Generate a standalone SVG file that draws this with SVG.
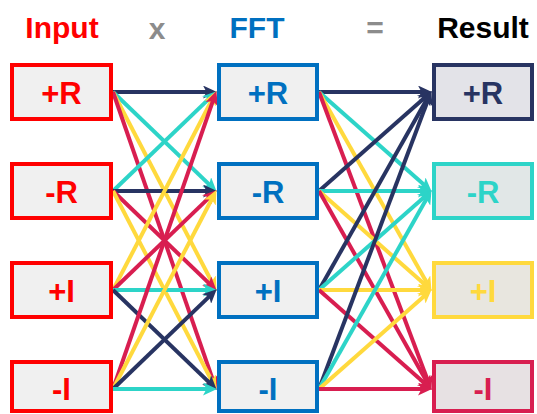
<svg xmlns="http://www.w3.org/2000/svg" width="537" height="414" viewBox="0 0 537 414">
<style>
.t{font-family:"Liberation Sans",Arial,sans-serif;font-weight:bold;font-size:30px}
.lbl{font-family:"Liberation Sans",Arial,sans-serif;font-weight:bold;font-size:31px;text-anchor:middle}
.box{stroke-width:4}
.in rect{fill:#f0f0f0;stroke:#ff0000}
.in text{fill:#ff0000}
.fft rect{fill:#f0f0f0;stroke:#0070c0}
.fft text{fill:#0070c0}
line{stroke-width:4;fill:none}
.n{stroke:#283462;marker-end:url(#mn)}
.c{stroke:#2dd4c8;marker-end:url(#mc)}
.y{stroke:#ffd93d;marker-end:url(#my)}
.r{stroke:#d81e50;marker-end:url(#mr)}
</style>
<defs>
<marker id="mn" markerUnits="userSpaceOnUse" markerWidth="15" markerHeight="13" refX="6" refY="6.5" orient="auto"><path d="M0,0 L14,6.5 L0,13 L3.5,6.5 z" fill="#283462"/></marker>
<marker id="mc" markerUnits="userSpaceOnUse" markerWidth="15" markerHeight="13" refX="6" refY="6.5" orient="auto"><path d="M0,0 L14,6.5 L0,13 L3.5,6.5 z" fill="#2dd4c8"/></marker>
<marker id="my" markerUnits="userSpaceOnUse" markerWidth="15" markerHeight="13" refX="6" refY="6.5" orient="auto"><path d="M0,0 L14,6.5 L0,13 L3.5,6.5 z" fill="#ffd93d"/></marker>
<marker id="mr" markerUnits="userSpaceOnUse" markerWidth="15" markerHeight="13" refX="6" refY="6.5" orient="auto"><path d="M0,0 L14,6.5 L0,13 L3.5,6.5 z" fill="#d81e50"/></marker>
</defs>
<rect width="537" height="414" fill="#ffffff"/>
<g id="titles">
<text class="t" x="62" y="38" text-anchor="middle" fill="#ff0000">Input</text>
<text class="t" x="157" y="39" text-anchor="middle" fill="#8c8c8c">x</text>
<text class="t" x="257" y="38" text-anchor="middle" fill="#0070c0">FFT</text>
<text class="t" x="375" y="38" text-anchor="middle" fill="#8c8c8c">=</text>
<text class="t" x="483" y="38" text-anchor="middle" fill="#000000">Result</text>
</g>
<g id="connectors">
<line class="n" x1="113" y1="92" x2="209" y2="92"/>
<line class="c" x1="113" y1="92" x2="210.95" y2="186.15"/>
<line class="y" x1="113" y1="92" x2="212.77" y2="283.79"/>
<line class="r" x1="113" y1="92" x2="213.71" y2="382.39"/>
<line class="c" x1="113" y1="191" x2="210.95" y2="96.85"/>
<line class="n" x1="113" y1="191" x2="209" y2="191"/>
<line class="r" x1="113" y1="191" x2="210.95" y2="285.15"/>
<line class="y" x1="113" y1="191" x2="212.77" y2="382.79"/>
<line class="y" x1="113" y1="290" x2="212.77" y2="98.21"/>
<line class="r" x1="113" y1="290" x2="210.95" y2="195.85"/>
<line class="c" x1="113" y1="290" x2="209" y2="290"/>
<line class="n" x1="113" y1="290" x2="210.95" y2="384.15"/>
<line class="r" x1="113" y1="389" x2="213.71" y2="98.61"/>
<line class="y" x1="113" y1="389" x2="212.77" y2="197.21"/>
<line class="n" x1="113" y1="389" x2="210.95" y2="294.85"/>
<line class="c" x1="113" y1="389" x2="209" y2="389"/>
<line class="n" x1="319" y1="92" x2="424" y2="92"/>
<line class="c" x1="319" y1="92" x2="425.76" y2="186.36"/>
<line class="y" x1="319" y1="92" x2="427.55" y2="283.91"/>
<line class="r" x1="319" y1="92" x2="428.53" y2="382.45"/>
<line class="n" x1="319" y1="191" x2="425.76" y2="96.64"/>
<line class="c" x1="319" y1="191" x2="424" y2="191"/>
<line class="y" x1="319" y1="191" x2="425.76" y2="285.36"/>
<line class="r" x1="319" y1="191" x2="427.55" y2="382.91"/>
<line class="n" x1="319" y1="290" x2="427.55" y2="98.09"/>
<line class="c" x1="319" y1="290" x2="425.76" y2="195.64"/>
<line class="y" x1="319" y1="290" x2="424" y2="290"/>
<line class="r" x1="319" y1="290" x2="425.76" y2="384.36"/>
<line class="n" x1="319" y1="389" x2="428.53" y2="98.55"/>
<line class="c" x1="319" y1="389" x2="427.55" y2="197.09"/>
<line class="y" x1="319" y1="389" x2="425.76" y2="294.64"/>
<line class="r" x1="319" y1="389" x2="424" y2="389"/>
</g>
<g id="in-pr" class="in"><rect class="box" x="12" y="65" width="99" height="54"/><text class="lbl" x="61.5" y="104">+R</text></g>
<g id="in-mr" class="in"><rect class="box" x="12" y="164" width="99" height="54"/><text class="lbl" x="61.5" y="203">-R</text></g>
<g id="in-pi" class="in"><rect class="box" x="12" y="263" width="99" height="54"/><text class="lbl" x="61.5" y="302">+I</text></g>
<g id="in-mi" class="in"><rect class="box" x="12" y="362" width="99" height="49"/><text class="lbl" x="61.5" y="400">-I</text></g>
<g id="fft-pr" class="fft"><rect class="box" x="219" y="65" width="98" height="54"/><text class="lbl" x="268" y="104">+R</text></g>
<g id="fft-mr" class="fft"><rect class="box" x="219" y="164" width="98" height="54"/><text class="lbl" x="268" y="203">-R</text></g>
<g id="fft-pi" class="fft"><rect class="box" x="219" y="263" width="98" height="54"/><text class="lbl" x="268" y="302">+I</text></g>
<g id="fft-mi" class="fft"><rect class="box" x="219" y="362" width="98" height="49"/><text class="lbl" x="268" y="400">-I</text></g>
<g id="res-pr"><rect class="box" x="434" y="65" width="98" height="54" fill="#e3e3e8" stroke="#283462"/><text class="lbl" x="483" y="104" fill="#283462">+R</text></g>
<g id="res-mr"><rect class="box" x="434" y="164" width="98" height="54" fill="#e1e7e7" stroke="#2dd4c8"/><text class="lbl" x="483" y="203" fill="#2dd4c8">-R</text></g>
<g id="res-pi"><rect class="box" x="434" y="263" width="98" height="54" fill="#e8e6df" stroke="#ffd93d"/><text class="lbl" x="483" y="302" fill="#ffd93d">+I</text></g>
<g id="res-mi"><rect class="box" x="434" y="362" width="98" height="49" fill="#e7e1e3" stroke="#d81e50"/><text class="lbl" x="483" y="400" fill="#d81e50">-I</text></g>
</svg>
